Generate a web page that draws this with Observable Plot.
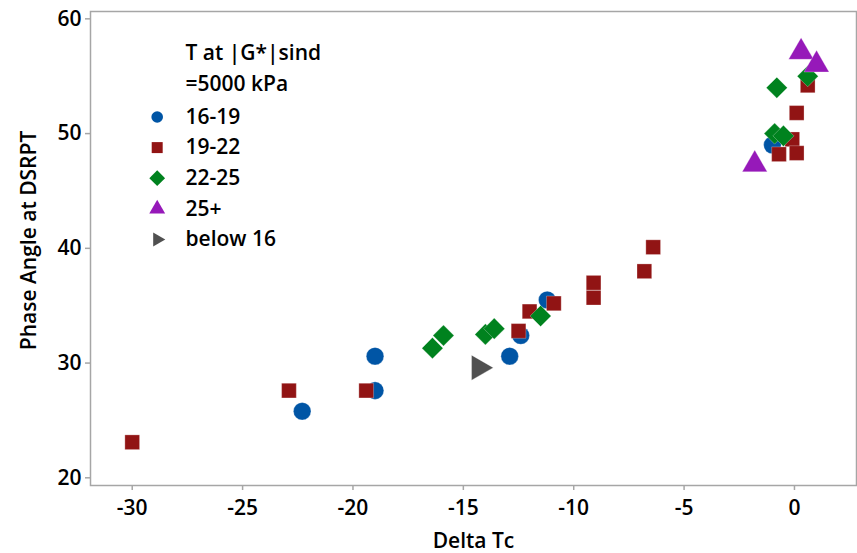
<!DOCTYPE html>
<html><head><meta charset="utf-8">
<script src="https://cdn.jsdelivr.net/npm/d3@7"></script>
<script src="https://cdn.jsdelivr.net/npm/@observablehq/plot@0.6"></script>
<style>
html,body{margin:0;padding:0;background:#fff;}
#chart svg{display:block;}
</style></head><body><div id="chart"></div>
<script>
// ---- data ----
const groups = ["16-19", "19-22", "22-25", "25+", "below 16"];
const legendTitle = ["T at |G*|sind", "=5000 kPa"];
const xLabel = "Delta Tc";
const yLabel = "Phase Angle at DSRPT";
const xTicks = [-30, -25, -20, -15, -10, -5, 0];
const yTicks = [20, 30, 40, 50, 60];

const deltaTc = [
  -22.3, -19.0, -19.0, -12.9, -12.4, -11.2, -1.0,
  -30.0, -22.9, -19.4, -12.5, -12.0, -10.9, -9.1, -9.1, -6.8, -6.4, 0.6, 0.1, -0.1, -0.7, 0.1,
  -16.4, -15.9, -14.0, -13.6, -11.5, -0.8, 0.6, -0.9, -0.5,
  0.3, 1.0, -1.8,
  -14.3
];
const phaseAngle = [
  25.8, 30.6, 27.6, 30.6, 32.4, 35.5, 49.0,
  23.1, 27.6, 27.6, 32.8, 34.5, 35.2, 35.7, 37.0, 38.0, 40.1, 54.2, 51.8, 49.5, 48.2, 48.3,
  31.3, 32.4, 32.5, 33.0, 34.1, 54.0, 55.0, 50.0, 49.8,
  57.1, 56.0, 47.3,
  29.6
];
const tempGroup = [
  "16-19", "16-19", "16-19", "16-19", "16-19", "16-19", "16-19",
  "19-22", "19-22", "19-22", "19-22", "19-22", "19-22", "19-22", "19-22", "19-22", "19-22", "19-22", "19-22", "19-22", "19-22", "19-22",
  "22-25", "22-25", "22-25", "22-25", "22-25", "22-25", "22-25", "22-25", "22-25",
  "25+", "25+", "25+",
  "below 16"
];

// ---- styles ----
const triangleRight = {
  draw(context, size) {
    const y = -Math.sqrt(size / (Math.sqrt(3) * 3));
    context.moveTo(-y * 2, 0);
    context.lineTo(y, -Math.sqrt(3) * y);
    context.lineTo(y, Math.sqrt(3) * y);
    context.closePath();
  }
};
const styles = {
  "16-19":    {fill: "#0055A5", symbol: "circle",   r: 8.8, lr: 5.8},
  "19-22":    {fill: "#911414", symbol: "square",   r: 8.3, lr: 6.2},
  "22-25":    {fill: "#00821E", symbol: "diamond2", r: 9.5, lr: 7.1},
  "25+":      {fill: "#9619B9", symbol: "triangle", r: 9.3, lr: 5.9},
  "below 16": {fill: "#505050", symbol: triangleRight, r: 9.3, lr: 5.2}
};

const data = deltaTc.map((x, i) => ({x, y: phaseAngle[i], g: tempGroup[i]}));
const font = "'Open Sans', 'Noto Sans', sans-serif";
const fmt = d => String(d);

const pointMarks = groups.map(g => Plot.dot(data.filter(d => d.g === g), {
  x: "x", y: "y", symbol: styles[g].symbol, r: styles[g].r,
  fill: styles[g].fill, stroke: "white", strokeOpacity: 0.35, strokeWidth: 0.8
}));

const legendMarks = [];
legendTitle.forEach((t, i) => {
  legendMarks.push(Plot.text([t], {frameAnchor: "top-left", dx: 95, dy: 41.3 + 31 * i,
    text: d => d, textAnchor: "start", lineAnchor: "middle", fill: "#000"}));
});
groups.forEach((g, i) => {
  const dy = 105.5 + 30.6 * i;
  legendMarks.push(Plot.dot([g], {frameAnchor: "top-left", dx: 66.7, dy,
    symbol: styles[g].symbol, r: styles[g].lr, fill: styles[g].fill}));
  legendMarks.push(Plot.text([g], {frameAnchor: "top-left", dx: 95, dy,
    text: d => d, textAnchor: "start", lineAnchor: "middle", fill: "#000"}));
});

const chart = Plot.plot({
  width: 857, height: 553,
  marginLeft: 90, marginTop: 11, marginRight: 1, marginBottom: 68,
  x: {domain: [-31.89, 2.81]},
  y: {domain: [19.33, 60.64]},
  style: {fontFamily: font, fontSize: "21px", fontWeight: 600, color: "#000", background: "#fff"},
  marks: [
    Plot.frame({stroke: "#a6a6a6", strokeWidth: 1.5}),
    Plot.axisX({ticks: xTicks, tickFormat: fmt, tickSize: 5, tickPadding: 10, stroke: "#a6a6a6", strokeWidth: 1.5, fill: "#000", label: null}),
    Plot.axisY({ticks: yTicks, tickFormat: fmt, tickSize: 5, tickPadding: 4, stroke: "#a6a6a6", strokeWidth: 1.5, fill: "#000", label: null}),
    Plot.text([xLabel], {frameAnchor: "bottom", dy: 56, text: d => d, lineAnchor: "middle", textAnchor: "middle", fill: "#000"}),
    Plot.text([yLabel], {frameAnchor: "left", dx: -61, dy: -8, rotate: -90, text: d => d, lineAnchor: "middle", textAnchor: "middle", fill: "#000"}),
    ...pointMarks,
    ...legendMarks
  ]
});
document.getElementById("chart").appendChild(chart);
</script>
</body></html>
